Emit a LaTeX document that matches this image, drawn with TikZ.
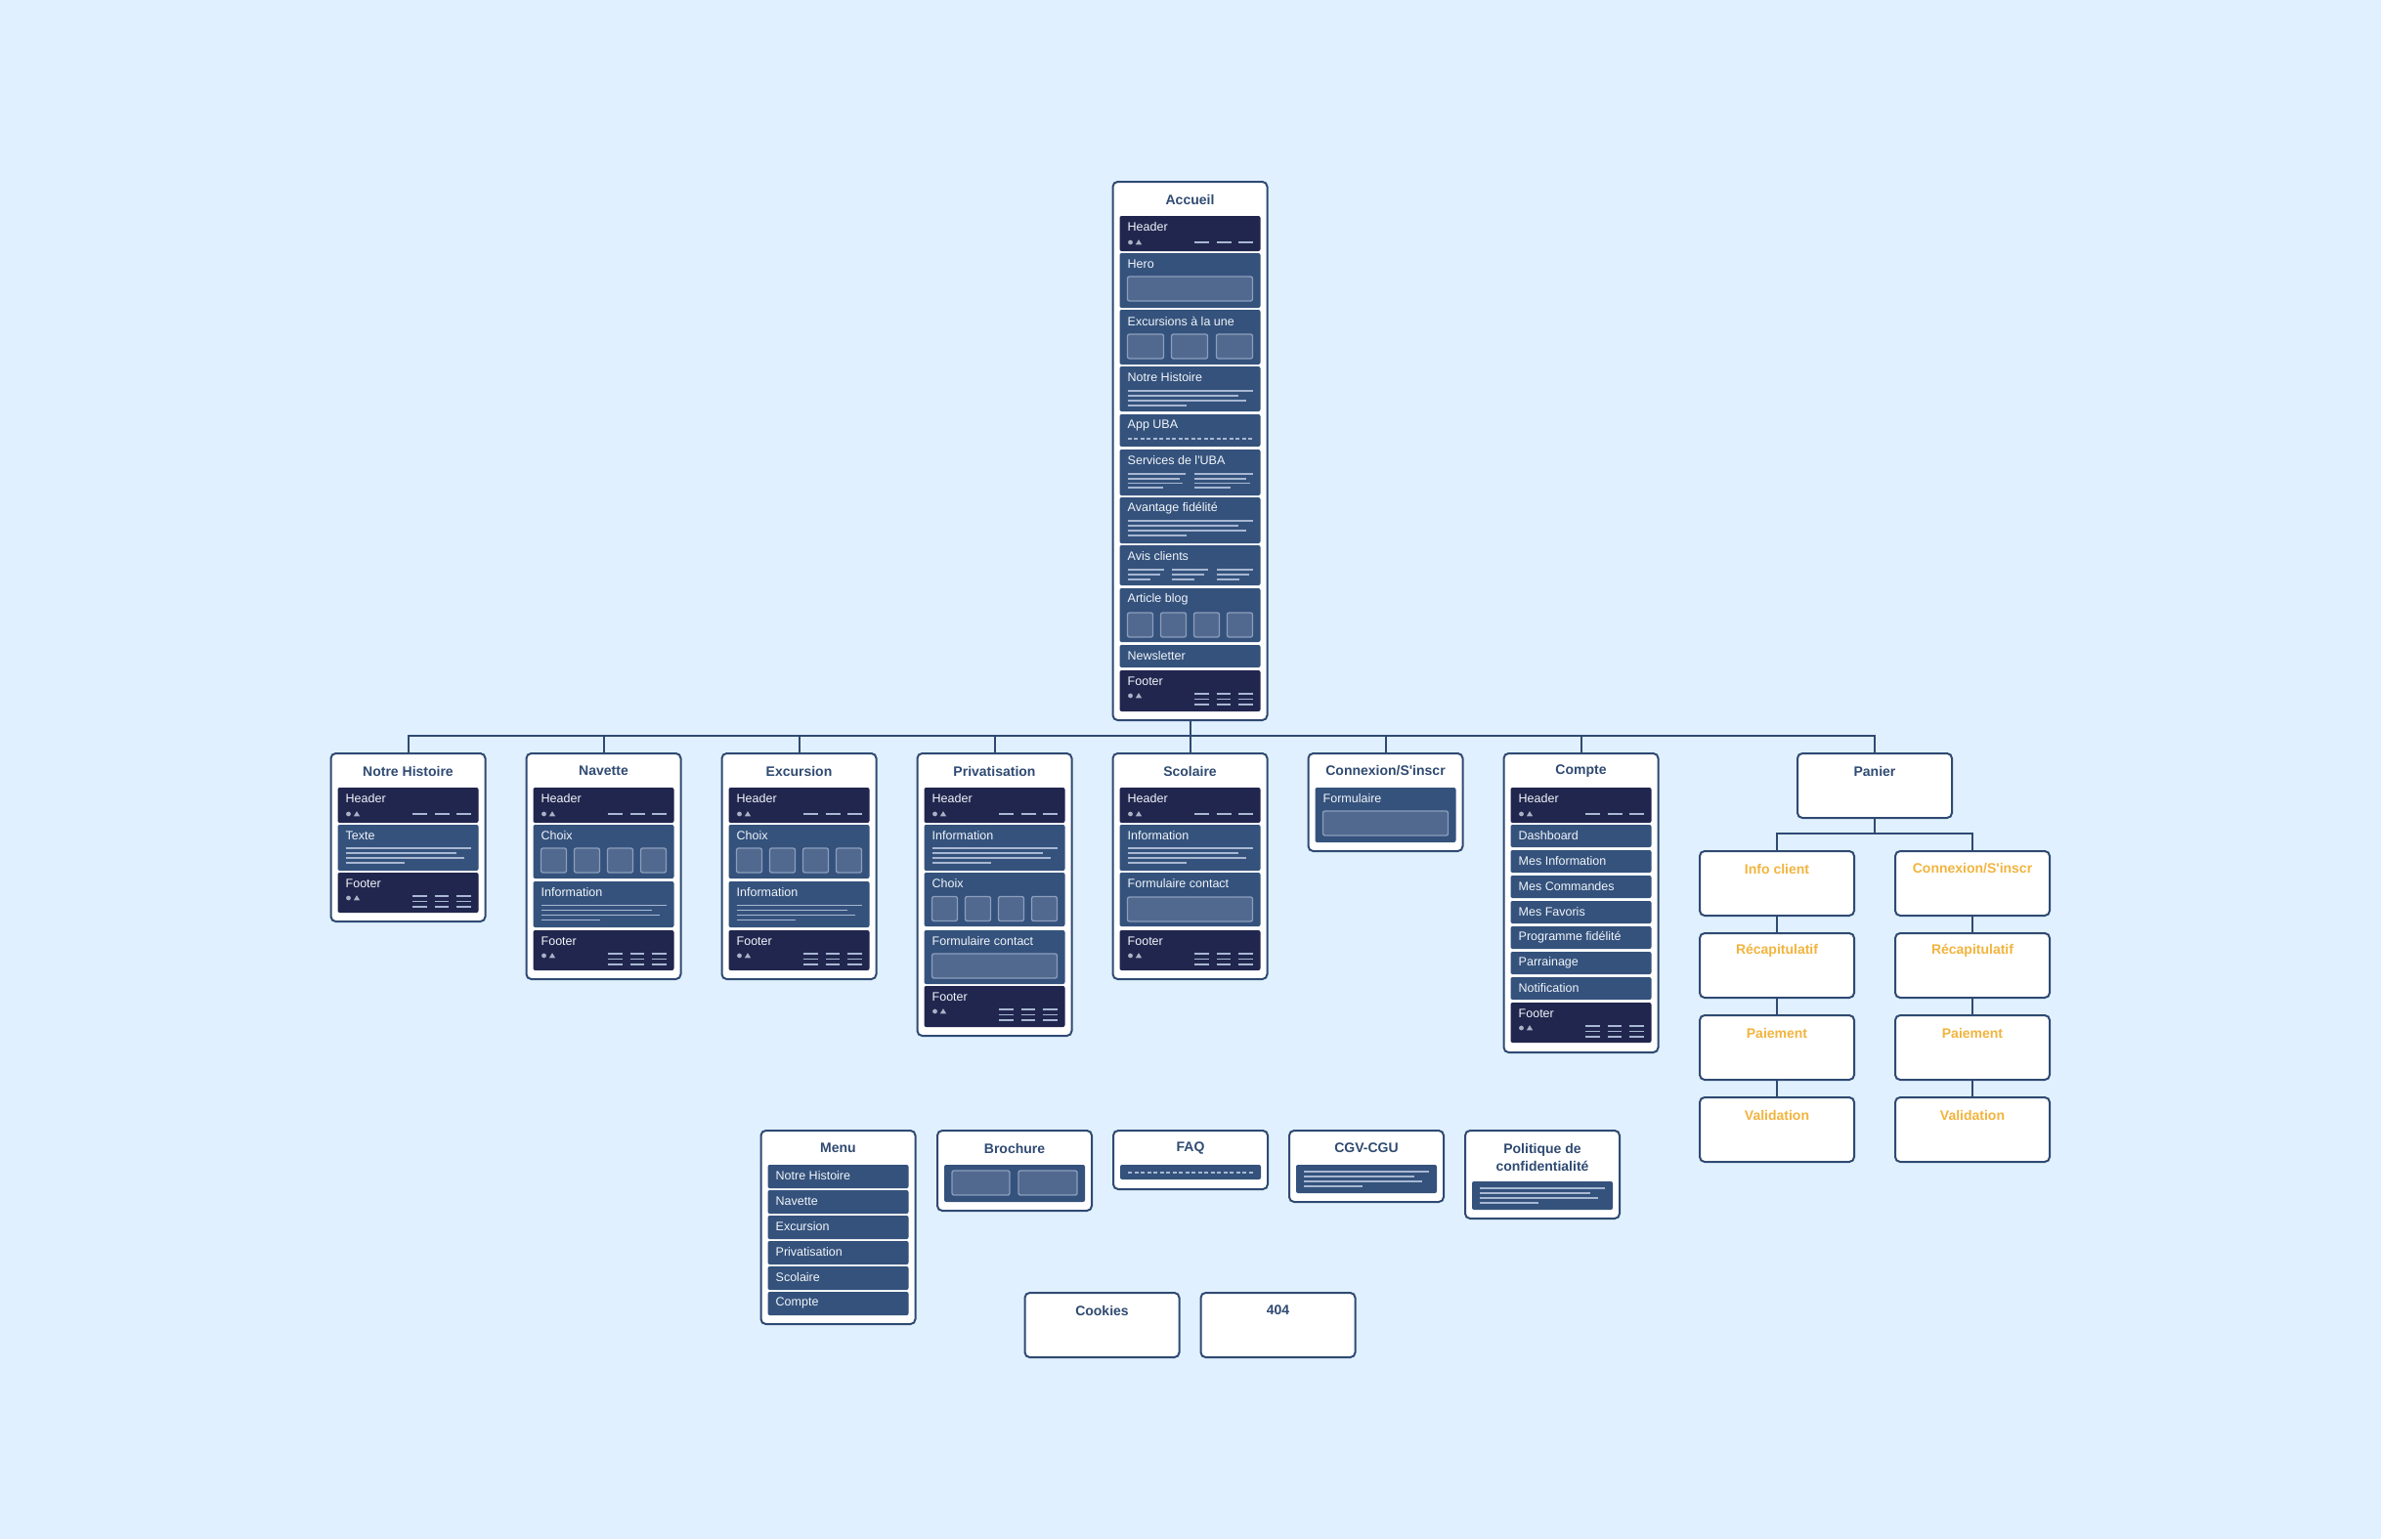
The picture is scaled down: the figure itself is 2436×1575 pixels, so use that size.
\documentclass[tikz,border=0pt]{standalone}
\usepackage{fontspec}
\setmainfont{Liberation Sans}[Ligatures=TeXOff]
\definecolor{bg}{HTML}{E0F0FE}
\definecolor{bd}{HTML}{2F4A72}
\definecolor{dk}{HTML}{20264E}
\definecolor{md}{HTML}{34527C}
\definecolor{ir}{HTML}{52698F}
\definecolor{irb}{HTML}{8C9EBD}
\definecolor{ln}{HTML}{A8B7D2}
\definecolor{ic}{HTML}{A9B2C6}
\definecolor{tx}{HTML}{F2F5FA}
\definecolor{org}{HTML}{F2B43E}
\tikzset{
  pagebox/.style={draw=bd, line width=2pt, rounded corners=5pt, fill=white, minimum width=158pt, inner sep=0pt, outer sep=0pt},
  ptitle/.style={font=\bfseries\fontsize{14}{18}\selectfont, text=bd, align=center, inner sep=0pt},
  otitle/.style={ptitle, text=org},
  secnode/.style={minimum width=144pt, inner sep=0pt, outer sep=0pt, rounded corners=2pt},
  sectext/.style={anchor=west, inner sep=0pt, text=tx, font=\fontsize{12.5}{14}\selectfont},
  conn/.style={draw=bd, line width=2pt},
  tline/.style={draw=ln, line width=1.6pt},
  hdash/.style={draw=ln, line width=2pt},
  hline/.style={draw=ln, line width=1.6pt},
  irect/.style={fill=ir, draw=irb, line width=1.3pt, rounded corners=2pt},
  icon/.style={fill=ic}
}
\newcommand{\pgbox}[4]{\node[pagebox, minimum height=#4pt, anchor=north] (#1) at (#2,#3) {};}
\newcommand{\pg}[5]{\pgbox{#1}{#2}{#3}{#4}\node[ptitle] (#1-t) at ([yshift=-18pt]#1.north) {#5};}
\newcommand{\ob}[4]{\node[pagebox, minimum height=66pt, anchor=north] (#1) at (#2,#3) {};\node[otitle] (#1-t) at ([yshift=-18pt]#1.north) {#4};}
\newcommand{\psecn}[5]{\node[secnode, fill=#5, minimum height=#4pt, anchor=north west] (#1) at (#2,#3) {};}
\newcommand{\psec}[6]{\psecn{#1}{#2}{#3}{#4}{#5}\node[sectext] (#1-l) at ([xshift=8pt,yshift=-11.5pt]#1.north west) {#6};}
\newcommand{\dhead}[1]{\begin{scope}[shift={(#1.north west)}]
  \fill[icon] (11,27) circle (2.4pt);
  \fill[icon] (16.3,29.4) -- (22.7,29.4) -- (19.5,24.2) -- cycle;
  \draw[hdash] (76,27) -- (91,27) (99,27) -- (114,27) (121,27) -- (136,27);
\end{scope}}
\newcommand{\dfoot}[1]{\begin{scope}[shift={(#1.north west)}]
  \fill[icon] (11,26) circle (2.4pt);
  \fill[icon] (16.3,28.4) -- (22.7,28.4) -- (19.5,23.2) -- cycle;
  \foreach \xa/\xb in {76/91,99/113,121/136}{\foreach \yy in {24,29.5,35}{\draw[hline] (\xa,\yy) -- (\xb,\yy);}}
\end{scope}}
\newcommand{\dlines}[2]{\begin{scope}[shift={(#1.north west)}]
  \draw[tline] (8,#2) -- (136,#2) (8,#2+5) -- (121,#2+5) (8,#2+10) -- (129,#2+10) (8,#2+15) -- (68,#2+15);
\end{scope}}
\newcommand{\dserv}[1]{\begin{scope}[shift={(#1.north west)}]
  \draw[tline] (8,25) -- (67,25) (8,29.7) -- (61,29.7) (8,34.3) -- (64,34.3) (8,39) -- (44,39);
  \draw[tline] (76,25) -- (136,25) (76,29.7) -- (129,29.7) (76,34.3) -- (133,34.3) (76,39) -- (113,39);
\end{scope}}
\newcommand{\davis}[1]{\begin{scope}[shift={(#1.north west)}]
  \foreach \xa in {8,53,99}{\draw[tline] (\xa,25) -- (\xa+37,25) (\xa,30) -- (\xa+33,30) (\xa,35) -- (\xa+23,35);}
\end{scope}}
\newcommand{\dbfour}[2]{\begin{scope}[shift={(#1.north west)}]
  \foreach \xa in {8,42,76,110}{\draw[irect] (\xa,#2) rectangle (\xa+26,#2+25);}
\end{scope}}
\newcommand{\dbthree}[2]{\begin{scope}[shift={(#1.north west)}]
  \foreach \xa in {8,53,99}{\draw[irect] (\xa,#2) rectangle (\xa+37,#2+25);}
\end{scope}}
\newcommand{\dform}[2]{\begin{scope}[shift={(#1.north west)}]
  \draw[irect] (8,#2) rectangle (136,#2+25);
\end{scope}}
\newcommand{\ddash}[2]{\begin{scope}[shift={(#1.north west)}]
  \draw[tline, line width=1.4pt, dash pattern=on 4pt off 2.5pt] (8,#2) -- (136,#2);
\end{scope}}
\begin{document}
\begin{tikzpicture}[x=1pt,y=-1pt]
\useasboundingbox (0,0) rectangle (2436,1575);
\fill[bg] (0,0) rectangle (2436,1575);
% ---------- Accueil
\pg{acc}{1217.5}{186}{551}{Accueil}
\psec{acc1}{1145.5}{221}{36}{dk}{Header}\dhead{acc1}
\psec{acc2}{1145.5}{259}{56}{md}{Hero}\dform{acc2}{24}
\psec{acc3}{1145.5}{317}{56}{md}{Excursions à la une}\dbthree{acc3}{25}
\psec{acc4}{1145.5}{375}{46}{md}{Notre Histoire}\dlines{acc4}{25}
\psec{acc5}{1145.5}{424}{33}{md}{App UBA}\ddash{acc5}{25}
\psec{acc6}{1145.5}{460}{47}{md}{Services de l'UBA}\dserv{acc6}
\psec{acc7}{1145.5}{509}{47}{md}{Avantage fidélité}\dlines{acc7}{24}
\psec{acc8}{1145.5}{558}{41}{md}{Avis clients}\davis{acc8}
\psec{acc9}{1145.5}{602}{55}{md}{Article blog}\dbfour{acc9}{25}
\psec{acc10}{1145.5}{660}{23}{md}{Newsletter}
\psec{acc11}{1145.5}{686}{42}{dk}{Footer}\dfoot{acc11}
% ---------- Notre Histoire
\pg{nh}{417.5}{771}{172}{Notre Histoire}
\psec{nh1}{345.5}{806}{36}{dk}{Header}\dhead{nh1}
\psec{nh2}{345.5}{844}{47}{md}{Texte}\dlines{nh2}{24}
\psec{nh3}{345.5}{893}{41}{dk}{Footer}\dfoot{nh3}
% ---------- Navette
\pg{nav}{617.5}{771}{231}{Navette}
\psec{nav1}{545.5}{806}{36}{dk}{Header}\dhead{nav1}
\psec{nav2}{545.5}{844}{55}{md}{Choix}\dbfour{nav2}{24}
\psec{nav3}{545.5}{902}{47}{md}{Information}\dlines{nav3}{24.5}
\psec{nav4}{545.5}{952}{41}{dk}{Footer}\dfoot{nav4}
% ---------- Excursion
\pg{exc}{817.5}{771}{231}{Excursion}
\psec{exc1}{745.5}{806}{36}{dk}{Header}\dhead{exc1}
\psec{exc2}{745.5}{844}{55}{md}{Choix}\dbfour{exc2}{24}
\psec{exc3}{745.5}{902}{47}{md}{Information}\dlines{exc3}{24.5}
\psec{exc4}{745.5}{952}{41}{dk}{Footer}\dfoot{exc4}
% ---------- Privatisation
\pg{pri}{1017.5}{771}{289}{Privatisation}
\psec{pri1}{945.5}{806}{36}{dk}{Header}\dhead{pri1}
\psec{pri2}{945.5}{844}{47}{md}{Information}\dlines{pri2}{24}
\psec{pri3}{945.5}{893}{55}{md}{Choix}\dbfour{pri3}{24.5}
\psec{pri4}{945.5}{952}{55}{md}{Formulaire contact}\dform{pri4}{24}
\psec{pri5}{945.5}{1009}{42}{dk}{Footer}\dfoot{pri5}
% ---------- Scolaire
\pg{sco}{1217.5}{771}{231}{Scolaire}
\psec{sco1}{1145.5}{806}{36}{dk}{Header}\dhead{sco1}
\psec{sco2}{1145.5}{844}{47}{md}{Information}\dlines{sco2}{24}
\psec{sco3}{1145.5}{893}{55}{md}{Formulaire contact}\dform{sco3}{25}
\psec{sco4}{1145.5}{952}{41}{dk}{Footer}\dfoot{sco4}
% ---------- Connexion
\pg{con}{1417.5}{771}{100}{Connexion/S'inscr}
\psec{con1}{1345.5}{806}{56}{md}{Formulaire}\dform{con1}{24}
% ---------- Compte
\pg{cpt}{1617.5}{771}{306}{Compte}
\psec{cpt1}{1545.5}{806}{36}{dk}{Header}\dhead{cpt1}
\psec{cpt2}{1545.5}{844}{23}{md}{Dashboard}
\psec{cpt3}{1545.5}{870}{23}{md}{Mes Information}
\psec{cpt4}{1545.5}{896}{23}{md}{Mes Commandes}
\psec{cpt5}{1545.5}{922}{23}{md}{Mes Favoris}
\psec{cpt6}{1545.5}{948}{23}{md}{Programme fidélité}
\psec{cpt7}{1545.5}{974}{23}{md}{Parrainage}
\psec{cpt8}{1545.5}{1000}{23}{md}{Notification}
\psec{cpt9}{1545.5}{1026}{41}{dk}{Footer}\dfoot{cpt9}
% ---------- Panier
\pg{pan}{1918}{771}{66}{Panier}
\ob{pa1}{1818}{871}{Info client}
\ob{pa2}{1818}{955}{Récapitulatif}
\ob{pa3}{1818}{1039}{Paiement}
\ob{pa4}{1818}{1123}{Validation}
\ob{pb1}{2018}{871}{Connexion/S'inscr}
\ob{pb2}{2018}{955}{Récapitulatif}
\ob{pb3}{2018}{1039}{Paiement}
\ob{pb4}{2018}{1123}{Validation}
% ---------- bottom pages
\pg{menu}{857.5}{1157}{198}{Menu}
\psec{mn1}{785.5}{1192}{24}{md}{Notre Histoire}
\psec{mn2}{785.5}{1218}{24}{md}{Navette}
\psec{mn3}{785.5}{1244}{24}{md}{Excursion}
\psec{mn4}{785.5}{1270}{24}{md}{Privatisation}
\psec{mn5}{785.5}{1296}{24}{md}{Scolaire}
\psec{mn6}{785.5}{1322}{24}{md}{Compte}
\pg{bro}{1038}{1157}{82}{Brochure}
\psecn{bro1}{966}{1192}{38}{md}
\begin{scope}[shift={(bro1.north west)}]
  \draw[irect] (8,6) rectangle (67,31);
  \draw[irect] (76,6) rectangle (136,31);
\end{scope}
\pg{faq}{1218}{1157}{60}{FAQ}
\psecn{faq1}{1146}{1192}{15}{md}\ddash{faq1}{8}
\pg{cgv}{1398}{1157}{73}{CGV-CGU}
\psecn{cgv1}{1326}{1192}{29}{md}\dlines{cgv1}{7}
\pgbox{pol}{1578}{1157}{90}
\node[ptitle] (pol-t) at ([yshift=-27pt]pol.north) {Politique de\\confidentialité};
\psecn{pol1}{1506}{1209}{29}{md}\dlines{pol1}{7}
\pg{coo}{1127.5}{1323}{66}{Cookies}
\pg{nf}{1307.5}{1323}{66}{404}
% ---------- connectors
\foreach \c in {nh,nav,exc,pri,sco,con,cpt,pan}{\draw[conn] (acc.south) -- ++(0,16) -| (\c.north);}
\draw[conn] (pan.south) -- ++(0,16) -| (pa1.north);
\draw[conn] (pan.south) -- ++(0,16) -| (pb1.north);
\draw[conn] (pa1.south) -- (pa2.north);
\draw[conn] (pa2.south) -- (pa3.north);
\draw[conn] (pa3.south) -- (pa4.north);
\draw[conn] (pb1.south) -- (pb2.north);
\draw[conn] (pb2.south) -- (pb3.north);
\draw[conn] (pb3.south) -- (pb4.north);
\end{tikzpicture}
\end{document}
